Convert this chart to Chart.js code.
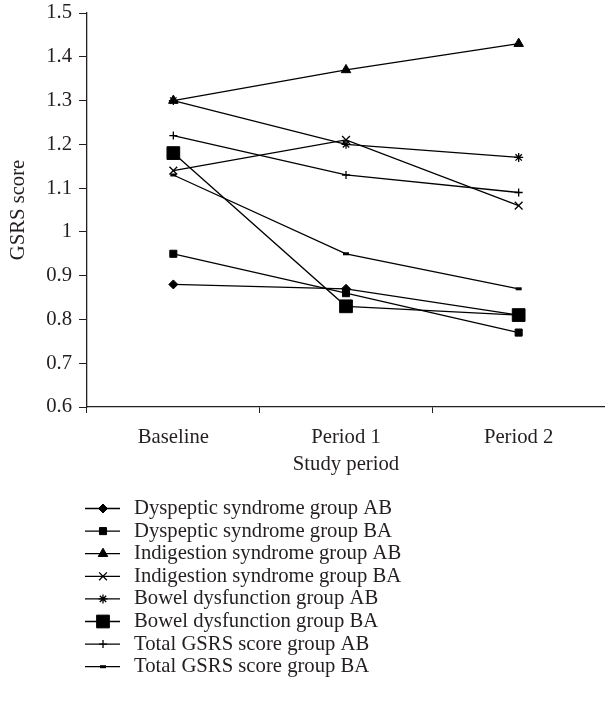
<!DOCTYPE html>
<html>
<head>
<meta charset="utf-8">
<title>GSRS score by study period</title>
<script src="https://cdn.jsdelivr.net/npm/chart.js@4/dist/chart.umd.min.js"></script>
<style>
    html, body { margin: 0; padding: 0; background: #fff; }
    .chart-wrap { position: relative; width: 605px; height: 704px; }
</style>
</head>
<body>
<div class="chart-wrap"><canvas id="gsrsChart"></canvas></div>
<script>
// Data
const periods = ['Baseline', 'Period 1', 'Period 2'];
const yTickLabels = ['0.6', '0.7', '0.8', '0.9', '1', '1.1', '1.2', '1.3', '1.4', '1.5'];

const dyspepticAB = [0.88, 0.87, 0.81];
const dyspepticBA = [0.95, 0.86, 0.77];
const indigestionAB = [1.30, 1.37, 1.43];
const indigestionBA = [1.14, 1.21, 1.06];
const bowelAB = [1.30, 1.20, 1.17];
const bowelBA = [1.18, 0.83, 0.81];
const totalAB = [1.22, 1.13, 1.09];
const totalBA = [1.13, 0.95, 0.87];

const INK = '#231f20';
const FONT = { family: '"Liberation Serif", "Times New Roman", serif', size: 20.7 };

function series(label, data, pointStyle, radius, pointBorderWidth) {
    return {
        label: label,
        data: data,
        borderColor: '#000',
        backgroundColor: '#000',
        borderWidth: 1.3,
        tension: 0,
        pointStyle: pointStyle,
        pointRadius: radius,
        pointBackgroundColor: '#000',
        pointBorderColor: '#000',
        pointBorderWidth: pointBorderWidth || 1
    };
}

// Vertical legend under the axis: short line with the marker in the middle
const seriesLegend = {
    id: 'seriesLegend',
    afterDraw(chart) {
        const ctx = chart.ctx;
        const top = chart.chartArea.bottom + 101.5;
        const step = 22.6;
        ctx.save();
        chart.data.datasets.forEach((ds, i) => {
            const y = top + i * step;
            ctx.strokeStyle = '#000';
            ctx.fillStyle = '#000';
            ctx.lineWidth = 1.3;
            ctx.beginPath();
            ctx.moveTo(85, y);
            ctx.lineTo(120, y);
            ctx.stroke();

            ctx.lineWidth = ds.pointBorderWidth;
            Chart.helpers.drawPoint(ctx, {
                pointStyle: ds.pointStyle,
                radius: ds.pointRadius,
                rotation: 0,
                borderWidth: ds.pointBorderWidth
            }, 103, y);

            ctx.fillStyle = INK;
            ctx.font = FONT.size + 'px ' + FONT.family;
            ctx.textBaseline = 'middle';
            ctx.textAlign = 'left';
            ctx.fillText(ds.label, 134, y);
        });
        ctx.restore();
    }
};

new Chart(document.getElementById('gsrsChart'), {
    type: 'line',
    data: {
        labels: periods,
        datasets: [
            series('Dyspeptic syndrome group AB', dyspepticAB, 'rectRot', 4.5),
            series('Dyspeptic syndrome group BA', dyspepticBA, 'rect', 5),
            series('Indigestion syndrome group AB', indigestionAB, 'triangle', 5.5),
            series('Indigestion syndrome group BA', indigestionBA, 'crossRot', 5.5, 1.3),
            series('Bowel dysfunction group AB', bowelAB, 'star', 4.5, 1.3),
            series('Bowel dysfunction group BA', bowelBA, 'rect', 9),
            series('Total GSRS score group AB', totalAB, 'cross', 4, 1.3),
            series('Total GSRS score group BA', totalBA, 'line', 3, 3)
        ]
    },
    options: {
        responsive: true,
        maintainAspectRatio: false,
        animation: false,
        layout: {
            autoPadding: false,
            padding: { top: 13, right: -2, bottom: 0, left: 0 }
        },
        plugins: {
            legend: { display: false },
            tooltip: { enabled: false }
        },
        scales: {
            x: {
                offset: true,
                grid: {
                    offset: true,
                    drawOnChartArea: false,
                    drawTicks: true,
                    tickLength: 6,
                    color: INK
                },
                border: { color: INK, width: 1.3 },
                ticks: { padding: 12, color: INK, font: FONT },
                title: {
                    display: true,
                    text: 'Study period',
                    color: INK,
                    font: FONT,
                    padding: { top: 4, bottom: 227 }
                },
                afterFit(scale) {
                    scale.height = 297;
                    scale.paddingLeft = 0;
                    scale.paddingRight = 0;
                }
            },
            y: {
                min: 0.6,
                max: 1.5,
                ticks: {
                    stepSize: 0.1,
                    padding: 7,
                    color: INK,
                    font: FONT,
                    callback: (value, index) => yTickLabels[index]
                },
                grid: {
                    drawOnChartArea: false,
                    tickLength: 8,
                    color: INK
                },
                border: { color: INK, width: 1.3 },
                title: {
                    display: true,
                    text: 'GSRS score',
                    color: INK,
                    font: FONT,
                    padding: { top: 6, bottom: 0 }
                },
                afterFit(scale) {
                    scale.width = 87;
                    scale.paddingTop = 0;
                    scale.paddingBottom = 0;
                }
            }
        }
    },
    plugins: [seriesLegend]
});
</script>
</body>
</html>
